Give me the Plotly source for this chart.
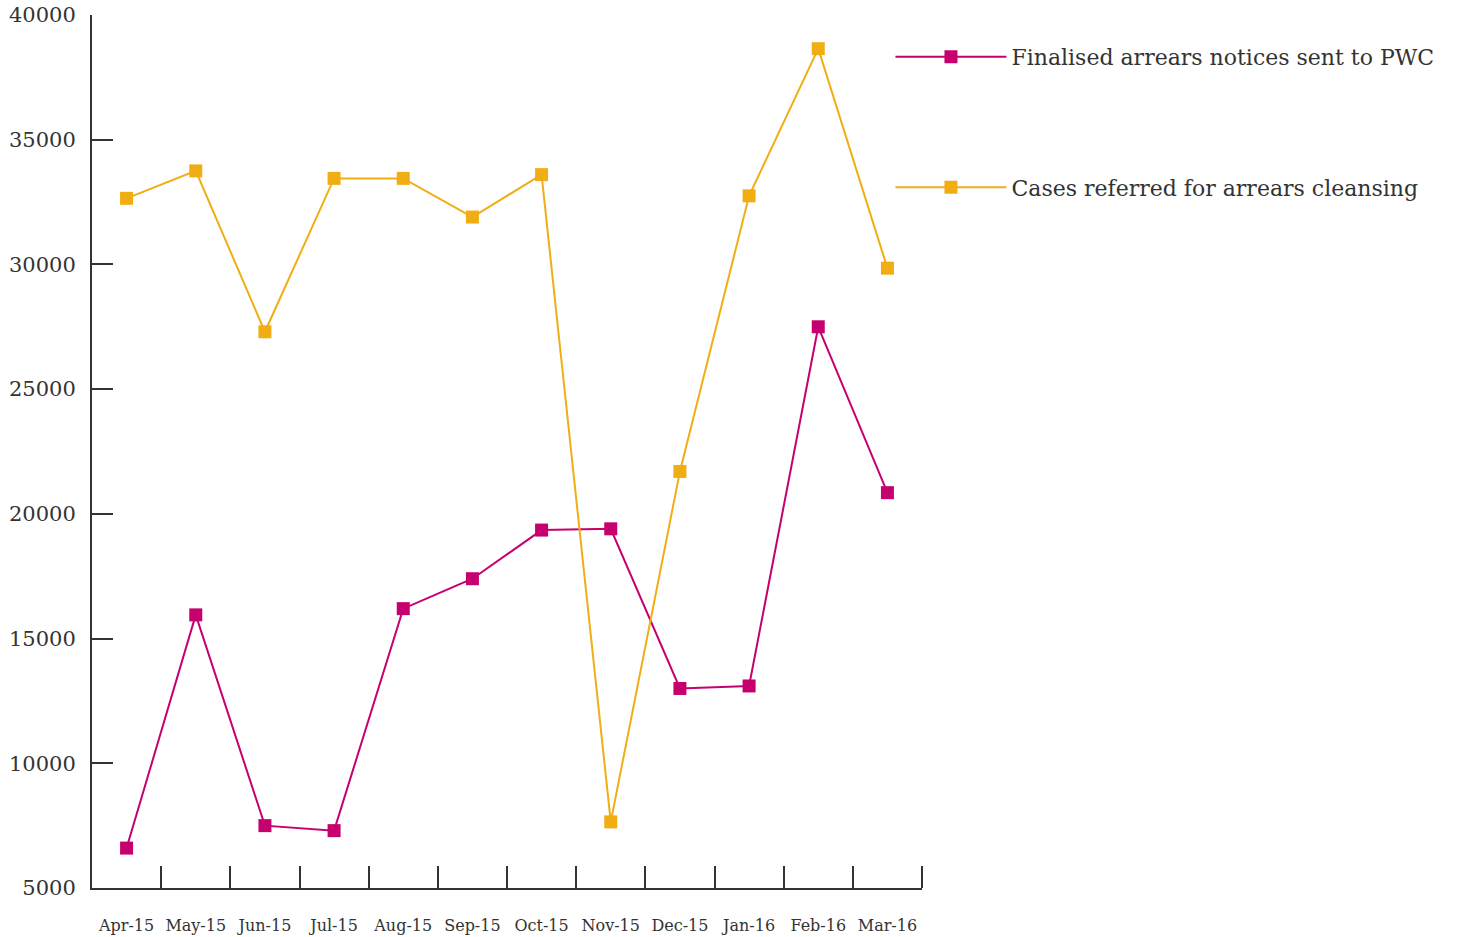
import plotly.graph_objects as go

months = ["Apr-15", "May-15", "Jun-15", "Jul-15", "Aug-15", "Sep-15",
          "Oct-15", "Nov-15", "Dec-15", "Jan-16", "Feb-16", "Mar-16"]
finalised = [6600, 15950, 7500, 7300, 16200, 17400, 19350, 19400, 13000, 13100, 27500, 20850]
cases = [32650, 33750, 27300, 33450, 33450, 31900, 33600, 7650, 21700, 32750, 38650, 29850]
y_ticks = [5000, 10000, 15000, 20000, 25000, 30000, 35000, 40000]
boundaries = [i + 0.5 for i in range(len(months))]

MAGENTA = "#C6006F"
ORANGE = "#F0AE14"
FONT = "DejaVu Serif"
TXT = "#333333"

fig = go.Figure()
fig.add_trace(go.Scatter(
    x=months, y=finalised, mode="lines+markers",
    name="Finalised arrears notices sent to PWC", legendgroup="a",
    line=dict(color=MAGENTA, width=2),
    marker=dict(symbol="square", size=13, color=MAGENTA),
))
fig.add_trace(go.Scatter(
    x=months, y=cases, mode="lines+markers",
    name="Cases referred for arrears cleansing", legendgroup="b",
    line=dict(color=ORANGE, width=2),
    marker=dict(symbol="square", size=13, color=ORANGE),
))

fig.update_layout(
    width=1459, height=937,
    margin=dict(l=92, r=537, t=15, b=49),
    paper_bgcolor="white", plot_bgcolor="white",
    font=dict(family=FONT, color=TXT),
    showlegend=True,
    legend=dict(
        x=0.962, xanchor="left", y=0.976, yanchor="top",
        font=dict(size=22, family=FONT, color=TXT),
        tracegroupgap=99, itemwidth=111,
        bgcolor="rgba(0,0,0,0)",
    ),
    xaxis=dict(
        type="category", range=[-0.5, 11.5],
        showline=True, linecolor="#333333", linewidth=2,
        ticks="", showgrid=False, zeroline=False,
        tickfont=dict(size=16, family=FONT, color=TXT),
        tickangle=0, automargin=False,
        ticklabelstandoff=22,
    ),
    xaxis2=dict(
        overlaying="x", anchor="free", position=0, side="top",
        type="linear", range=[-0.5, 11.5],
        tickvals=boundaries, showticklabels=False,
        ticks="outside", ticklen=22, tickwidth=2, tickcolor="#333333",
        showline=False, showgrid=False, zeroline=False, automargin=False,
    ),
    yaxis=dict(
        range=[5000, 40000], tickvals=y_ticks, ticktext=[str(v) for v in y_ticks],
        showline=True, linecolor="#333333", linewidth=2,
        ticks="inside", ticklen=21, tickwidth=2, tickcolor="#333333",
        showgrid=False, zeroline=False, automargin=False,
        tickfont=dict(size=21, family=FONT, color=TXT),
        ticklabelstandoff=10,
    ),
)
# invisible helper trace so the boundary-tick axis is rendered
fig.add_trace(go.Scatter(x=[boundaries[0]], y=[y_ticks[0]], xaxis="x2", mode="markers",
                         marker=dict(opacity=0), showlegend=False, hoverinfo="skip"))

fig.write_html("out.html")
